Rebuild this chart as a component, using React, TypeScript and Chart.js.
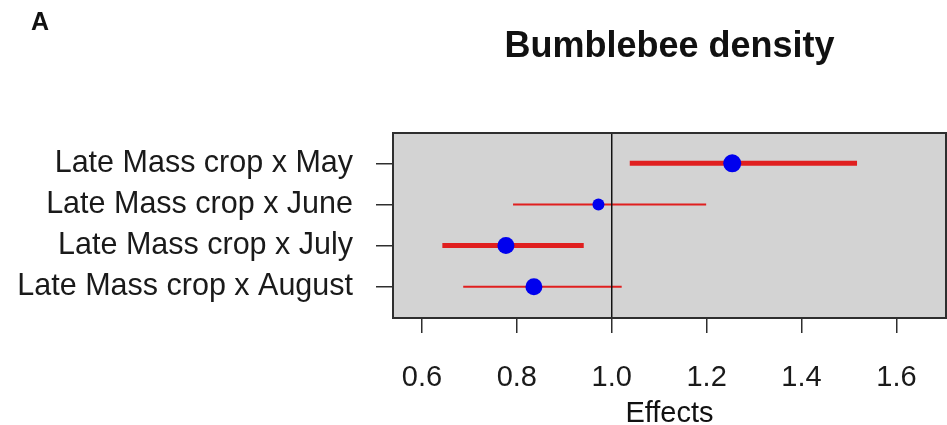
import React, { useEffect, useRef } from "react";
import { Chart, registerables } from "chart.js";

Chart.register(...registerables);

const categories = [
  "Late Mass crop x May",
  "Late Mass crop x June",
  "Late Mass crop x July",
  "Late Mass crop x August",
];
const estimates = [1.254, 0.972, 0.777, 0.836];
const lowerCI = [1.038, 0.792, 0.643, 0.687];
const upperCI = [1.517, 1.199, 0.941, 1.021];
const xTicks = [0.6, 0.8, 1.0, 1.2, 1.4, 1.6];
const referenceValue = 1.0;
const xLimits = [0.539, 1.7045];
const yLimits = [0.263, 4.761];

const pointRadii = [9, 6, 8.5, 8.5];
const lineWidths = [5, 2, 5, 2];

const titleText = "Bumblebee density";
const xTitleText = "Effects";
const panelLabel = "A";

const FONT = "'Liberation Sans', Arial, Helvetica, sans-serif";

export default function App() {
  const canvasRef = useRef<HTMLCanvasElement | null>(null);

  useEffect(() => {
    const canvas = canvasRef.current;
    if (!canvas) return;

    const pointDataset = {
      label: "estimates",
      data: estimates.map((v, i) => ({ x: v, y: i + 1 })),
      pointRadius: pointRadii,
      pointHoverRadius: pointRadii,
      pointBackgroundColor: "#0000ee",
      pointBorderWidth: 0,
      pointBorderColor: "#0000ee",
      showLine: false,
    };

    const ciDatasets = categories.map((_, i) => ({
      label: "ci" + i,
      data: [
        { x: lowerCI[i], y: i + 1 },
        { x: upperCI[i], y: i + 1 },
      ],
      showLine: true,
      borderColor: "#e01f1f",
      borderWidth: lineWidths[i],
      borderCapStyle: "butt" as const,
      pointRadius: 0,
      pointHoverRadius: 0,
    }));

    const framePlugin = {
      id: "frame",
      beforeDraw(chart: any) {
        const { ctx, chartArea: a } = chart;
        ctx.save();
        ctx.fillStyle = "#d3d3d3";
        ctx.fillRect(a.left, a.top, a.right - a.left, a.bottom - a.top);
        ctx.restore();
      },
      afterDatasetsDraw(chart: any) {
        const { ctx, chartArea: a } = chart;
        const xs = chart.scales.x;
        const px = xs.getPixelForValue(referenceValue);
        ctx.save();
        ctx.strokeStyle = "#111";
        ctx.lineWidth = 1.5;
        ctx.beginPath();
        ctx.moveTo(px, a.top);
        ctx.lineTo(px, a.bottom);
        ctx.stroke();
        ctx.restore();
      },
      afterDraw(chart: any) {
        const { ctx, chartArea: a } = chart;
        ctx.save();
        ctx.strokeStyle = "#2e2e2e";
        ctx.lineWidth = 2;
        ctx.strokeRect(a.left, a.top, a.right - a.left, a.bottom - a.top);

        const cx = (a.left + a.right) / 2;
        ctx.fillStyle = "#111";
        ctx.textAlign = "center";
        ctx.textBaseline = "alphabetic";
        ctx.font = "bold 36px " + FONT;
        ctx.fillText(titleText, cx, 57);

        ctx.font = "29px " + FONT;
        ctx.fillText(xTitleText, cx, 422);

        ctx.textAlign = "left";
        ctx.font = "bold 25px " + FONT;
        ctx.fillText(panelLabel, 31, 30);
        ctx.restore();
      },
    };

    const chart = new Chart(canvas, {
      type: "scatter",
      data: { datasets: [pointDataset as any, ...(ciDatasets as any[])] },
      options: {
        responsive: false,
        animation: false,
        events: [],
        layout: {
          autoPadding: false,
          padding: { left: 0, right: 1, top: 133, bottom: 0 },
        },
        plugins: {
          legend: { display: false },
          tooltip: { enabled: false },
          title: { display: false },
        },
        scales: {
          x: {
            type: "linear",
            min: xLimits[0],
            max: xLimits[1],
            afterBuildTicks: (scale: any) => {
              scale.ticks = xTicks.map((v) => ({ value: v }));
            },
            afterFit: (scale: any) => {
              scale.height = 107;
              scale.paddingLeft = 0;
              scale.paddingRight = 0;
            },
            border: { display: false },
            grid: {
              display: true,
              drawOnChartArea: false,
              drawTicks: true,
              tickLength: 15,
              color: "#2e2e2e",
              lineWidth: 1.5,
            },
            ticks: {
              padding: 28,
              color: "#1a1a1a",
              font: { family: FONT, size: 29 },
              maxRotation: 0,
              autoSkip: false,
              callback: (v: any) => Number(v).toFixed(1),
            },
          },
          y: {
            type: "linear",
            reverse: true,
            min: yLimits[0],
            max: yLimits[1],
            afterBuildTicks: (scale: any) => {
              scale.ticks = categories.map((_, i) => ({ value: i + 1 }));
            },
            afterFit: (scale: any) => {
              scale.width = 393;
              scale.paddingTop = 0;
              scale.paddingBottom = 0;
            },
            border: { display: false },
            grid: {
              display: true,
              drawOnChartArea: false,
              drawTicks: true,
              tickLength: 17,
              color: "#2e2e2e",
              lineWidth: 1.5,
            },
            ticks: {
              padding: 23,
              color: "#1a1a1a",
              font: { family: FONT, size: 30.5 },
              autoSkip: false,
              callback: (v: any) => categories[Math.round(Number(v)) - 1] ?? "",
            },
          },
        },
      },
      plugins: [framePlugin],
    });

    return () => chart.destroy();
  }, []);

  return (
    <div
      style={{
        position: "fixed",
        left: 0,
        top: 0,
        width: 947,
        height: 425,
        background: "#ffffff",
      }}
    >
      <canvas
        ref={canvasRef}
        width={947}
        height={425}
        style={{ display: "block", width: 947, height: 425 }}
      />
    </div>
  );
}
